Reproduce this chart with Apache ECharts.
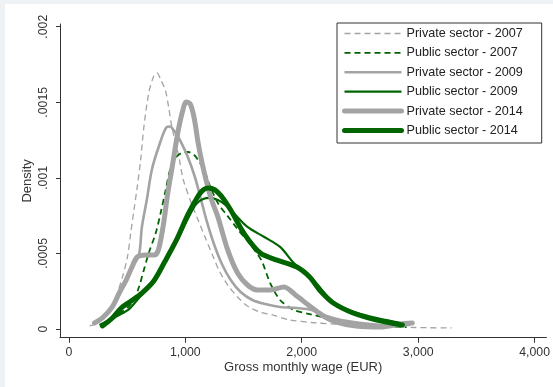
<!DOCTYPE html>
<html><head><meta charset="utf-8">
<script src="https://cdn.jsdelivr.net/npm/echarts@6/dist/echarts.min.js"></script>
<style>
html,body{margin:0;padding:0;background:#eef2f5;overflow:hidden;}
#bg{position:absolute;left:5px;top:4px;width:548px;height:383px;background:#fff;}
#chart{position:absolute;left:0;top:0;width:553px;height:387px;}
</style></head><body>
<div id="bg"></div><div id="chart"></div>
<script>
const xTicks = [0, 1000, 2000, 3000, 4000];
const yTicks = [0, 0.0005, 0.001, 0.0015, 0.002];
const yTickLabels = ['0', '.0005', '.001', '.0015', '.002'];
const seriesNames = ['Private sector - 2007', 'Public sector - 2007', 'Private sector - 2009',
  'Public sector - 2009', 'Private sector - 2014', 'Public sector - 2014'];

const private2007 = [[178,0.00002],[263,0.000046],[347,0.000126],[404,0.000212],[460,0.000344],[503,0.000476],
  [531,0.000635],[559,0.000787],[587,0.000939],[616,0.001118],[644,0.001336],[686,0.001561],[729,0.001674],
  [757,0.001694],[790,0.001647],[828,0.001581],[856,0.001471],[884,0.001338],[926,0.001206],[955,0.001096],
  [983,0.000986],[1051,0.000834],[1110,0.000721],[1169,0.000609],[1237,0.000483],[1297,0.000377],[1364,0.000291],
  [1449,0.000212],[1534,0.000152],[1636,0.000113],[1746,0.000093],[1898,0.00006],[2127,0.00004],[2466,0.000026],
  [2975,0.00001],[3288,0.000007]];
const public2007 = [[288,0.000026],[390,0.000073],[475,0.000126],[517,0.000152],[559,0.000192],[602,0.000278],
  [644,0.000391],[686,0.000503],[746,0.000635],[788,0.000767],[831,0.000919],[873,0.001065],[915,0.001131],
  [966,0.001164],[1025,0.001171],[1076,0.001151],[1110,0.001118],[1161,0.001052],[1212,0.000946],[1280,0.000833],
  [1364,0.000747],[1449,0.000661],[1534,0.000582],[1619,0.000496],[1661,0.000443],[1729,0.000304],[1814,0.000192],
  [1932,0.000126],[2068,0.000099],[2297,0.00006],[2636,0.000026],[2900,0.000012]];
const private2009 = [[220,0.000033],[288,0.000073],[373,0.000146],[432,0.000232],[492,0.000318],[542,0.000404],
  [602,0.00049],[627,0.000675],[669,0.000853],[712,0.001052],[771,0.001204],[839,0.001336],[870,0.00134],
  [898,0.001317],[924,0.00129],[966,0.001231],[1025,0.001131],[1085,0.000999],
  [1136,0.000853],[1186,0.000708],[1246,0.000562],[1314,0.00043],[1390,0.000324],[1475,0.000245],[1576,0.000192],
  [1686,0.000165],[1814,0.000146],[1958,0.000139],[2085,0.000126],[2212,0.000086],[2339,0.00006],[2508,0.00004],
  [2720,0.000026],[2932,0.000026]];
const public2009 = [[263,0.000026],[347,0.00006],[432,0.000093],[517,0.000132],[602,0.000205],[729,0.000311],
  [822,0.000437],[924,0.000576],[1025,0.000734],[1093,0.000827],[1153,0.00086],[1212,0.000867],[1280,0.000853],
  [1347,0.00082],[1407,0.000774],[1534,0.000675],[1678,0.000609],[1814,0.000543],[1932,0.000437],[2042,0.00037],
  [2153,0.000278],[2254,0.000185],[2381,0.000132],[2508,0.000099],[2720,0.00006],[2890,0.000033]];
const private2014 = [[220,0.00004],[288,0.000073],[373,0.000146],[432,0.000238],[492,0.000324],[542,0.00041],
  [585,0.000476],[661,0.00049],[737,0.00049],[771,0.000529],[814,0.000701],[847,0.000887],[890,0.001085],
  [932,0.001284],[975,0.001436],[1008,0.001502],[1042,0.001489],[1076,0.001396],[1110,0.001231],[1144,0.001098],
  [1178,0.000986],[1220,0.000867],[1280,0.000741],[1364,0.000523],[1449,0.00037],[1534,0.000291],[1619,0.000258],
  [1729,0.000258],[1847,0.000278],[1958,0.000218],[2068,0.000152],[2186,0.000086],[2297,0.000046],[2466,0.00002],
  [2678,0.000013],[2847,0.000033],[2949,0.00004]];
const public2014 = [[288,0.00002],[373,0.000073],[449,0.000139],[534,0.000185],[627,0.000238],[729,0.000318],
  [822,0.000443],[924,0.000589],[1025,0.000761],[1110,0.00088],[1153,0.00092],[1195,0.000933],[1254,0.00092],
  [1322,0.000867],[1390,0.000787],[1508,0.000628],[1644,0.000503],[1788,0.000456],[1958,0.00041],[2068,0.000344],
  [2153,0.000258],[2271,0.000172],[2441,0.000106],[2636,0.00006],[2864,0.000026]];

const GRAY = '#a3a3a3';
const GREEN = '#006400';
const FONT = '"Liberation Sans", Arial, sans-serif';
const styles = [
  {color: GRAY, width: 1.3, type: [6, 4]},
  {color: GREEN, width: 1.8, type: [6, 4]},
  {color: GRAY, width: 2.6, type: 'solid'},
  {color: GREEN, width: 2.2, type: 'solid'},
  {color: GRAY, width: 5, type: 'solid', cap: 'round', join: 'round'},
  {color: GREEN, width: 5, type: 'solid', cap: 'round', join: 'round'}
];
const dataList = [private2007, public2007, private2009, public2009, private2014, public2014];

const chart = echarts.init(document.getElementById('chart'), null, {renderer: 'canvas'});
chart.setOption({
  animation: false,
  backgroundColor: 'transparent',
  grid: {left: 60, right: 0, top: 24, bottom: 49.3, containLabel: false},
  legend: {
    orient: 'vertical', left: 337, top: 23,
    itemWidth: 57, itemHeight: 14, itemGap: 6.4,
    padding: [4, 19, 6, 5],
    borderColor: '#333', borderWidth: 1, backgroundColor: '#fff',
    selectedMode: false,
    textStyle: {fontSize: 12.6, color: '#222', fontFamily: FONT},
    itemStyle: {opacity: 0, borderWidth: 0},
    lineStyle: {width: 'inherit'},
    data: seriesNames
  },
  xAxis: {
    type: 'value', min: -76.3, max: 4101.7,
    axisLine: {show: true, onZero: false, lineStyle: {color: '#333', width: 1}},
    axisTick: {show: true, customValues: xTicks, length: 5, lineStyle: {color: '#333'}},
    axisLabel: {customValues: xTicks, margin: 9, fontSize: 12.3, color: '#333', fontFamily: FONT},
    splitLine: {show: false},
    name: 'Gross monthly wage (EUR)', nameLocation: 'middle', nameGap: 23, nameMoveOverlap: false,
    nameTextStyle: {fontSize: 13, color: '#333', fontFamily: FONT}
  },
  yAxis: {
    type: 'value', min: -0.0000576, max: 0.0020179,
    axisLine: {show: true, onZero: false, lineStyle: {color: '#333', width: 1}},
    axisTick: {show: true, customValues: yTicks, length: 4, lineStyle: {color: '#333'}},
    axisLabel: {customValues: yTicks, rotate: 90, margin: 10, fontSize: 12.3, color: '#333', fontFamily: FONT,
      formatter: function (v) {
        for (let i = 0; i < yTicks.length; i++) { if (Math.abs(v - yTicks[i]) < 1e-9) return yTickLabels[i]; }
        return '';
      }},
    splitLine: {show: false},
    name: 'Density', nameLocation: 'middle', nameGap: 26, nameMoveOverlap: false,
    nameTextStyle: {fontSize: 13, color: '#333', fontFamily: FONT}
  },
  series: seriesNames.map(function (n, i) {
    return {
      name: n, type: 'line', data: dataList[i], showSymbol: false, symbol: 'none',
      smooth: 0.3, silent: true, lineStyle: styles[i], itemStyle: {color: styles[i].color}
    };
  })
});
</script>
</body></html>
